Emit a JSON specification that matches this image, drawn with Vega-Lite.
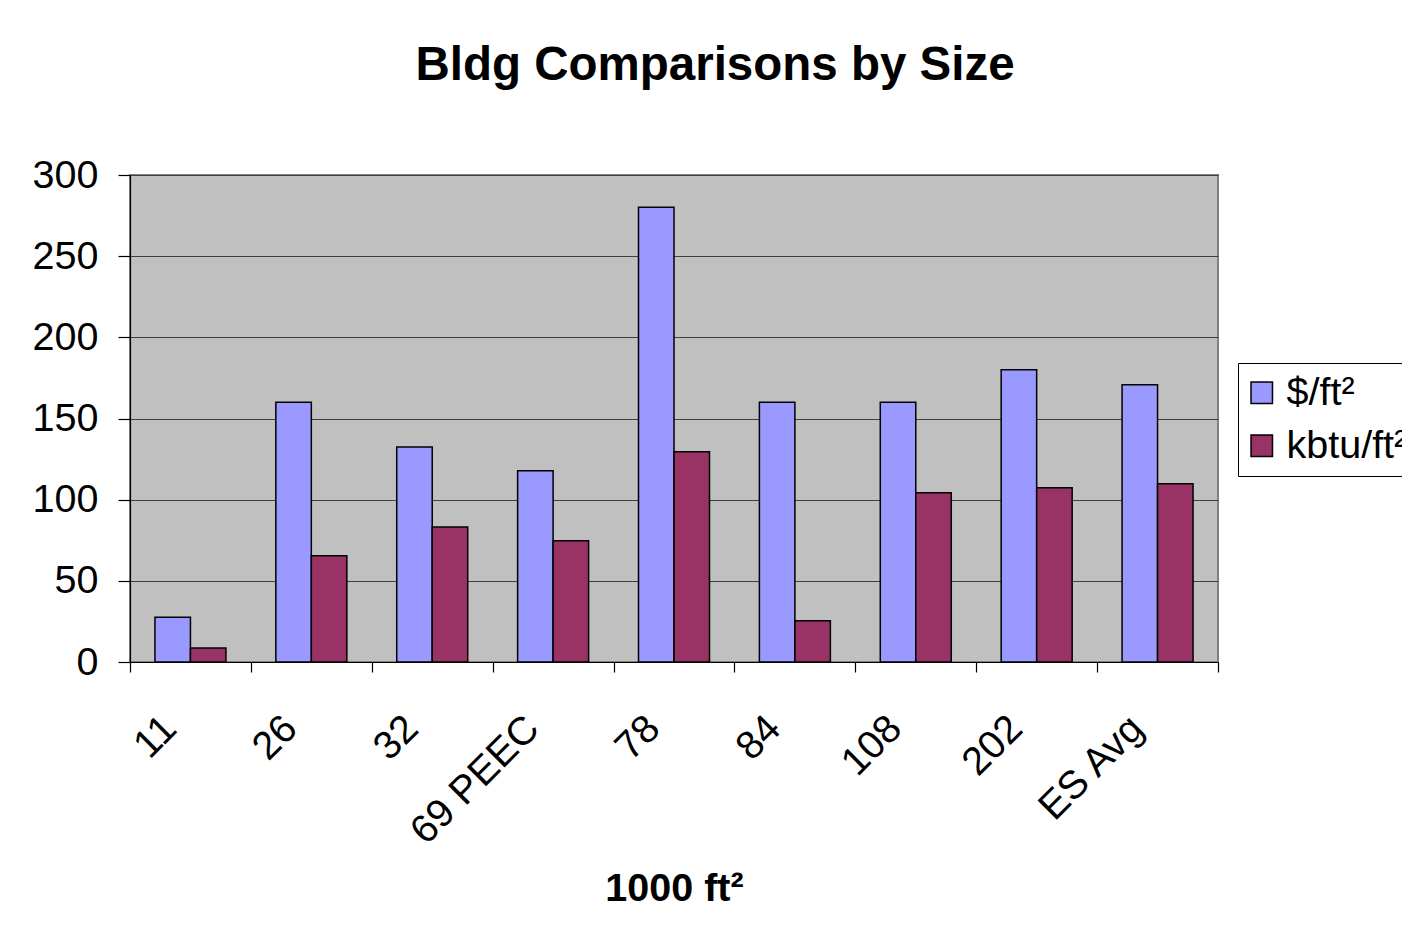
{
  "$schema": "https://vega.github.io/schema/vega-lite/v6.json",
  "width": 1088,
  "height": 487,
  "autosize": {"type": "none"},
  "padding": {"left": 130, "top": 175, "right": 184, "bottom": 271},
  "background": "white",
  "title": {
    "text": "Bldg Comparisons by Size",
    "font": "Liberation Sans",
    "fontSize": 47.5,
    "fontWeight": "bold",
    "color": "black",
    "anchor": "middle",
    "frame": "group",
    "dx": 41,
    "baseline": "alphabetic",
    "offset": 28
  },
  "data": {
    "values": [
      {"bldg": "11", "series": "$/ft²", "value": 27.5},
      {"bldg": "11", "series": "kbtu/ft²", "value": 8.7},
      {"bldg": "26", "series": "$/ft²", "value": 160},
      {"bldg": "26", "series": "kbtu/ft²", "value": 65.5},
      {"bldg": "32", "series": "$/ft²", "value": 132.5},
      {"bldg": "32", "series": "kbtu/ft²", "value": 83.2},
      {"bldg": "69 PEEC", "series": "$/ft²", "value": 117.8},
      {"bldg": "69 PEEC", "series": "kbtu/ft²", "value": 74.7},
      {"bldg": "78", "series": "$/ft²", "value": 280.2},
      {"bldg": "78", "series": "kbtu/ft²", "value": 129.5},
      {"bldg": "84", "series": "$/ft²", "value": 160},
      {"bldg": "84", "series": "kbtu/ft²", "value": 25.4},
      {"bldg": "108", "series": "$/ft²", "value": 160},
      {"bldg": "108", "series": "kbtu/ft²", "value": 104.2},
      {"bldg": "202", "series": "$/ft²", "value": 180},
      {"bldg": "202", "series": "kbtu/ft²", "value": 107.3},
      {"bldg": "ES Avg", "series": "$/ft²", "value": 170.8},
      {"bldg": "ES Avg", "series": "kbtu/ft²", "value": 109.8}
    ]
  },
  "mark": {"type": "bar", "stroke": "black", "strokeWidth": 1.5},
  "encoding": {
    "x": {
      "field": "bldg",
      "type": "nominal",
      "sort": null,
      "scale": {"paddingInner": 0, "paddingOuter": 0},
      "axis": {
        "title": "1000 ft²",
        "titleFont": "Liberation Sans",
        "titleFontSize": 39.5,
        "titleFontWeight": "bold",
        "titleColor": "black",
        "titleBaseline": "alphabetic",
        "titleY": 238,
        "titleX": 544,
        "tickBand": "extent",
        "tickSize": 10,
        "tickColor": "black",
        "tickWidth": 1.2,
        "domainColor": "black",
        "domainWidth": 1.2,
        "labelFont": "Liberation Sans",
        "labelFontSize": 39.5,
        "labelColor": "black",
        "labelAngle": -45,
        "labelAlign": "right",
        "labelBaseline": "middle",
        "labelPadding": 50,
        "labelOffset": -21,
        "grid": false
      }
    },
    "xOffset": {
      "field": "series",
      "type": "nominal",
      "sort": ["$/ft²", "kbtu/ft²"],
      "scale": {"paddingInner": 0, "paddingOuter": 0.703}
    },
    "y": {
      "field": "value",
      "type": "quantitative",
      "scale": {"domain": [0, 300], "nice": false},
      "axis": {
        "title": null,
        "values": [0, 50, 100, 150, 200, 250, 300],
        "tickSize": 12,
        "tickColor": "black",
        "tickWidth": 1.2,
        "domainColor": "black",
        "domainWidth": 1.2,
        "labelFont": "Liberation Sans",
        "labelFontSize": 39.5,
        "labelColor": "black",
        "labelPadding": 20,
        "grid": true,
        "gridColor": "#404040",
        "gridWidth": 1.2
      }
    },
    "color": {
      "field": "series",
      "type": "nominal",
      "scale": {"domain": ["$/ft²", "kbtu/ft²"], "range": ["#9999FF", "#993366"]},
      "legend": {
        "title": null,
        "orient": "none",
        "legendX": 1108,
        "legendY": 188,
        "padding": 10,
        "fillColor": "white",
        "strokeColor": "black",
        "symbolType": "square",
        "symbolSize": 460,
        "symbolStrokeColor": "black",
        "symbolStrokeWidth": 1.5,
        "symbolOpacity": 1,
        "symbolOffset": -6,
        "labelFont": "Liberation Sans",
        "labelFontSize": 39.5,
        "labelColor": "black",
        "labelOffset": 5,
        "rowPadding": 12,
        "labelLimit": 300
      }
    }
  },
  "config": {
    "view": {"fill": "#C0C0C0", "stroke": "#808080", "strokeWidth": 2}
  }
}
